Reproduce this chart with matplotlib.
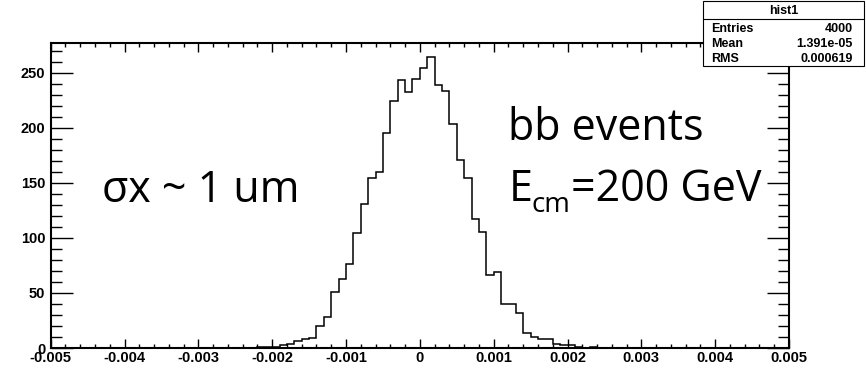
import numpy as np
import matplotlib
matplotlib.use("Agg")
from matplotlib import pyplot as plt
from matplotlib.ticker import MultipleLocator, FixedLocator, FixedFormatter
from matplotlib.patches import Rectangle

# histogram: 100 bins of 0.0001 between -0.005 and 0.005
x_min, x_max, n_bins = -0.005, 0.005, 100
first_bin = -0.0022          # low edge of first non-empty bin
counts = [1, 1, 1, 3, 4, 6, 8, 9, 20, 28,
          51, 63, 76, 104, 131, 154, 160, 195, 224, 243,
          232, 244, 254, 264, 239, 233, 203, 171, 154, 117,
          105, 66, 69, 40, 40, 32, 14, 10, 8, 8,
          4, 3, 3, 1, 0, 1]

xticks = [-0.005, -0.004, -0.003, -0.002, -0.001, 0, 0.001, 0.002, 0.003, 0.004, 0.005]
xlabels = ['-0.005', '-0.004', '-0.003', '-0.002', '-0.001', '0',
           '0.001', '0.002', '0.003', '0.004', '0.005']
yticks = [0, 50, 100, 150, 200, 250]

stats_title = 'hist1'
stats_names = ['Entries', 'Mean', 'RMS']
stats_values = ['4000', '1.391e-05', '0.000619']

edges = np.linspace(x_min, x_max, n_bins + 1)
values = np.zeros(n_bins)
i0 = int(round((first_bin - x_min) / 0.0001))
values[i0:i0 + len(counts)] = counts

fig = plt.figure(figsize=(8.66, 3.69), dpi=100)
ax = fig.add_axes([50.7/866, 1 - 348/369, (789 - 50.7)/866, (348 - 42.7)/369])

ax.stairs(values, edges, color='black', lw=1.1)
ax.set_xlim(x_min, x_max)
ax.set_ylim(0, 1.05 * max(counts))

for s in ax.spines.values():
    s.set_linewidth(1.5)

ax.xaxis.set_major_locator(FixedLocator(xticks))
ax.xaxis.set_major_formatter(FixedFormatter(xlabels))
ax.xaxis.set_minor_locator(MultipleLocator(0.0002))
ax.yaxis.set_major_locator(FixedLocator(yticks))
ax.yaxis.set_minor_locator(MultipleLocator(10))

ax.tick_params(axis='x', which='major', direction='in', length=6.5, width=1.0,
               top=True, pad=2.5, labelsize=10.5)
ax.tick_params(axis='x', which='minor', direction='in', length=3.2, width=1.0, top=True)
ax.tick_params(axis='y', which='major', direction='in', length=16, width=1.0,
               right=True, pad=4, labelsize=10.5)
ax.tick_params(axis='y', which='minor', direction='in', length=8, width=1.0, right=True)
for lab in ax.get_xticklabels() + ax.get_yticklabels():
    lab.set_fontfamily('Liberation Sans')
    lab.set_fontweight('bold')

# big annotations
bfont = dict(family='Open Sans', size=31, color='black')
ax.text(-0.00430, 132.6, 'σx ~ 1 um', va='baseline', **bfont)
ax.text(0.00120, 189, 'bb events', va='baseline', **bfont)
tE = ax.text(0.00120, 133.5, 'E', va='baseline', **bfont)
tcm = ax.annotate('cm', xy=(1, 0), xycoords=tE, xytext=(-0.5, -5),
                  textcoords='offset points', va='bottom', ha='left',
                  family='Open Sans', size=20)
ax.annotate('=200 GeV', xy=(1, 0), xycoords=(tcm, tE), xytext=(0, 0),
            textcoords='offset points', va='bottom', ha='left', **bfont)

# stats box
bx0, bx1 = 703/866, 864/866
by0, by1 = 1 - 66/369, 1 - 1/369
hdr = 1 - 19/369
fig.patches.append(Rectangle((bx0, by0), bx1 - bx0, by1 - by0, transform=fig.transFigure,
                             facecolor='white', edgecolor='black', lw=0.8, zorder=5))
fig.add_artist(plt.Line2D([bx0, bx1], [hdr, hdr], transform=fig.transFigure,
                          color='black', lw=0.8, zorder=6))
sfont = dict(family='Liberation Sans', weight='bold', size=9, zorder=7)
fig.text((bx0 + bx1) / 2, 1 - 11/369, stats_title, ha='center', va='center', **sfont)
for k, (n, v) in enumerate(zip(stats_names, stats_values)):
    yy = 1 - (29.5 + 14.5 * k) / 369
    fig.text(bx0 + 8/866, yy, n, ha='left', va='center', **sfont)
    fig.text(bx1 - 11/866, yy, v, ha='right', va='center', **sfont)

plt.savefig('out.png', dpi=100)
